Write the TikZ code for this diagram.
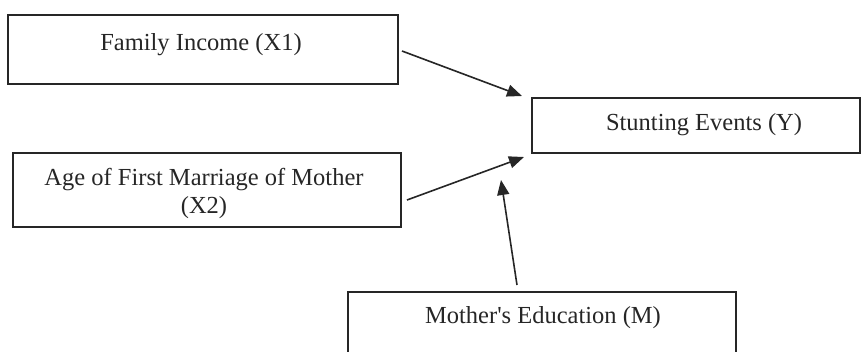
\documentclass[tikz,border=0pt]{standalone}
\usepackage{fontspec}
\setmainfont{Liberation Serif}[Ligatures=TeXOff]
\usetikzlibrary{arrows.meta}
\begin{document}
\begin{tikzpicture}[x=1pt,y=-1pt,
  box/.style={draw=black!85, line width=1.6pt, inner sep=0pt},
  lbl/.style={anchor=base, inner sep=0pt, font=\fontsize{24.5}{28}\selectfont, text=black!85},
  conn/.style={draw=black!85, line width=1.6pt, -{Triangle[length=15pt,width=12pt]}}]
\useasboundingbox (0,0) rectangle (862,351);
\clip (0,0) rectangle (862,351);
% boxes
\node[box, minimum width=390pt, minimum height=69pt] (x1) at (203,49.5) {};
\node[box, minimum width=388pt, minimum height=74pt] (x2) at (207,190) {};
\node[box, minimum width=328pt, minimum height=55pt] (y) at (696,125.5) {};
\node[box, minimum width=388pt, minimum height=90pt] (m) at (542,337) {};
% labels
\node[lbl] (tx1) at (201,50) {Family Income (X1)};
\node[lbl] (tx2a) at (204,185) {Age of First Marriage of Mother};
\node[lbl] (tx2b) at (204,213) {(X2)};
\node[lbl] (ty) at (704,130) {Stunting Events (Y)};
\node[lbl] (tm) at (543,323) {Mother's Education (M)};
% connector ends
\coordinate (a1) at (402,51);
\coordinate (a1e) at (522,96);
\coordinate (a2) at (407,200);
\coordinate (a2e) at (524,157);
\coordinate (a3) at (517,285);
\coordinate (a3e) at (501,180);
\draw[conn] (a1) -- (a1e);
\draw[conn] (a2) -- (a2e);
\draw[conn] (a3) -- (a3e);
\end{tikzpicture}
\end{document}
